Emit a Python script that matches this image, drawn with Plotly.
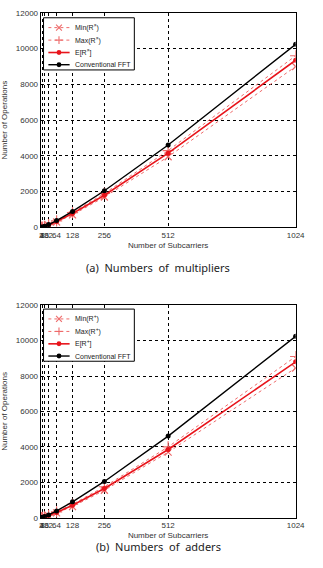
import plotly.graph_objects as go

subcarriers = [2, 4, 8, 16, 32, 64, 128, 256, 512, 1024]
x_tick_labels = ["2", "4", "8", "16", "32", "64", "128", "256", "512", "1024"]
y_ticks = [0, 2000, 4000, 6000, 8000, 10000, 12000]

conventional_fft = [2, 8, 24, 64, 160, 384, 896, 2048, 4608, 10240]

mult_min = [1, 6, 17, 47, 122, 300, 700, 1700, 3950, 9000]
mult_max = [2, 8, 22, 60, 155, 360, 830, 1900, 4300, 9600]
mult_mean = [2, 7, 20, 54, 140, 330, 780, 1800, 4150, 9350]

add_min = [1, 5, 15, 42, 110, 270, 630, 1550, 3700, 8450]
add_max = [2, 7, 20, 55, 140, 330, 760, 1750, 4000, 9100]
add_mean = [2, 6, 18, 50, 125, 300, 700, 1650, 3850, 8800]

RED = "#e8141b"
PINK = "#ee6a6a"
FONT = "Liberation Sans"
W, H = 323, 568

fig = go.Figure()


def add_panel(xa, ya, sym, mn, mx, me):
    fig.add_trace(go.Scatter(
        x=subcarriers, y=mn, xaxis=xa, yaxis=ya,
        name=f"Min(R<sup>{sym}</sup>)", mode="lines+markers",
        line=dict(color=PINK, width=1, dash="dot"),
        marker=dict(symbol="x-thin-open", size=7, line=dict(color=PINK, width=1.2))))
    fig.add_trace(go.Scatter(
        x=subcarriers, y=mx, xaxis=xa, yaxis=ya,
        name=f"Max(R<sup>{sym}</sup>)", mode="lines+markers",
        line=dict(color=PINK, width=1, dash="dot"),
        marker=dict(symbol="cross-thin-open", size=8, line=dict(color=PINK, width=1.2))))
    fig.add_trace(go.Scatter(
        x=subcarriers, y=me, xaxis=xa, yaxis=ya,
        name=f"E[R<sup>{sym}</sup>]", mode="lines+markers",
        line=dict(color=RED, width=1.6),
        marker=dict(symbol="circle", size=5, color=RED)))
    fig.add_trace(go.Scatter(
        x=subcarriers, y=conventional_fft, xaxis=xa, yaxis=ya,
        name="Conventional FFT", mode="lines+markers",
        line=dict(color="black", width=1.4),
        marker=dict(symbol="circle", size=5, color="black")))


add_panel("x", "y", "×", mult_min, mult_max, mult_mean)
add_panel("x2", "y2", "+", add_min, add_max, add_mean)

xdom = [40 / W, 304 / W]
ydom1 = [1 - 227 / H, 1 - 9 / H]
ydom2 = [1 - 522 / H, 1 - 306 / H]

xaxis_common = dict(
    range=[0, 1024], tickvals=subcarriers, ticktext=x_tick_labels, tickangle=0,
    showgrid=True, gridcolor="black", griddash="dot", gridwidth=0.6,
    showline=True, linecolor="black", linewidth=1, mirror=True,
    ticks="", zeroline=False,
    tickfont=dict(family=FONT, size=8, color="#333"),
    title=dict(text="Number of Subcarriers", font=dict(family=FONT, size=8, color="#333"), standoff=3),
)
yaxis_common = dict(
    range=[0, 12000], tickvals=y_ticks, tickformat="d",
    showgrid=True, gridcolor="black", griddash="dot", gridwidth=0.6,
    showline=True, linecolor="black", linewidth=1, mirror=True,
    ticks="", zeroline=False,
    tickfont=dict(family=FONT, size=8, color="#333"),
    title=dict(text="Number of Operations", font=dict(family=FONT, size=8, color="#333"), standoff=6),
)


# ---- compact hand-built legends (paper coordinates) ----
def px(x):
    return x / W


def py(y):
    return 1 - y / H


shapes = []
annotations = []


def pline(x0, y0, x1, y1, color, width=1, dash="solid"):
    shapes.append(dict(type="line", xref="paper", yref="paper",
                       x0=px(x0), y0=py(y0), x1=px(x1), y1=py(y1),
                       line=dict(color=color, width=width, dash=dash)))


def build_legend(top, sym):
    shapes.append(dict(type="rect", xref="paper", yref="paper",
                       x0=px(43), x1=px(137), y0=py(top), y1=py(top + 53),
                       fillcolor="white", line=dict(color="black", width=1), layer="above"))
    rows = [top + 10, top + 22.7, top + 35.3, top + 47.7]
    labels = [f"Min(R<sup>{sym}</sup>)", f"Max(R<sup>{sym}</sup>)", f"E[R<sup>{sym}</sup>]", "Conventional FFT"]
    pline(48, rows[0], 70, rows[0], PINK, 1, "dot")
    pline(48, rows[1], 70, rows[1], PINK, 1, "dot")
    pline(48, rows[2], 70, rows[2], RED, 1.6)
    pline(48, rows[3], 70, rows[3], "black", 1.4)
    cx = 59
    r = 3
    pline(cx - r, rows[0] - r, cx + r, rows[0] + r, PINK, 1.1)
    pline(cx - r, rows[0] + r, cx + r, rows[0] - r, PINK, 1.1)
    pline(cx - 4, rows[1], cx + 4, rows[1], PINK, 1.1)
    pline(cx, rows[1] - 4, cx, rows[1] + 4, PINK, 1.1)
    for ry, col in ((rows[2], RED), (rows[3], "black")):
        shapes.append(dict(type="circle", xref="paper", yref="paper",
                           x0=px(cx - 2.5), x1=px(cx + 2.5), y0=py(ry + 2.5), y1=py(ry - 2.5),
                           fillcolor=col, line=dict(color=col, width=0)))
    for ry, lab in zip(rows, labels):
        annotations.append(dict(text=lab, x=px(74), y=py(ry), xref="paper", yref="paper",
                                xanchor="left", yanchor="middle", showarrow=False,
                                font=dict(family=FONT, size=7, color="#222")))


build_legend(14, "×")
build_legend(310, "+")

for s in shapes:
    s.setdefault("layer", "above")

annotations += [
    dict(text="(a)  Numbers  of  multipliers", x=0.5, y=py(268), xref="paper", yref="paper",
         showarrow=False, font=dict(family="Noto Sans", size=11, color="#222")),
    dict(text="(b)  Numbers  of  adders", x=0.5, y=py(561), xref="paper", yref="paper",
         showarrow=False, font=dict(family="Noto Sans", size=11, color="#222")),
]

fig.update_layout(
    width=W, height=H,
    margin=dict(l=0, r=0, t=0, b=0),
    paper_bgcolor="white", plot_bgcolor="white",
    xaxis=dict(domain=xdom, anchor="y", **xaxis_common),
    yaxis=dict(domain=ydom1, anchor="x", **yaxis_common),
    xaxis2=dict(domain=xdom, anchor="y2", **xaxis_common),
    yaxis2=dict(domain=ydom2, anchor="x2", **yaxis_common),
    showlegend=False,
    shapes=shapes,
    annotations=annotations,
)

fig.write_html("out.html")
